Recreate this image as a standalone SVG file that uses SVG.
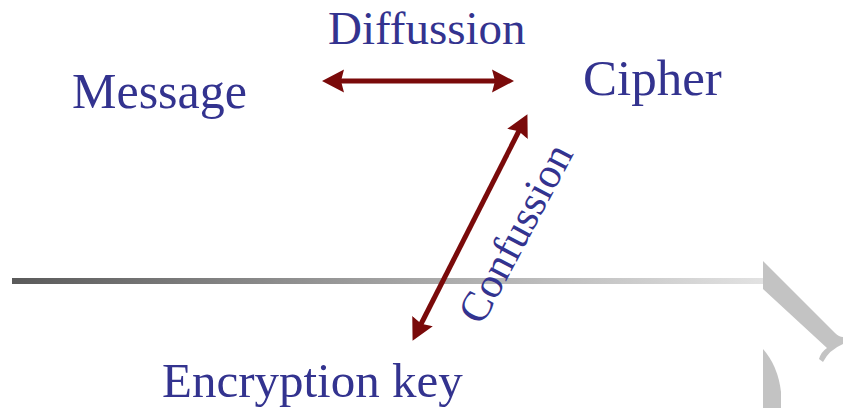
<svg xmlns="http://www.w3.org/2000/svg" width="843" height="408" viewBox="0 0 843 408">
  <style>
    .label { font-family: "Liberation Serif", "Times New Roman", serif; fill: #33338f; }
    .link { stroke: #7a0a0a; stroke-width: 5; fill: none; marker-start: url(#head); marker-end: url(#head); }
    .deco { fill: #c3c3c3; }
  </style>
  <defs>
    <marker id="head" markerUnits="userSpaceOnUse" markerWidth="23" markerHeight="25" refX="10" refY="11.5" orient="auto-start-reverse" viewBox="0 0 23 23">
      <path d="M0,0 L22,11.5 L0,23 L3,11.5 Z" fill="#7a0a0a"/>
    </marker>
    <linearGradient id="rule" x1="0" y1="0" x2="1" y2="0">
      <stop offset="0" stop-color="#5a5a5a"/>
      <stop offset="0.55" stop-color="#a8a8a8"/>
      <stop offset="1" stop-color="#e2e2e2"/>
    </linearGradient>
  </defs>
  <rect width="843" height="408" fill="#ffffff"/>

  <!-- horizontal rule and slide ornaments -->
  <rect x="12" y="278" width="751" height="6" fill="url(#rule)"/>
  <path class="deco" d="M763,261 L835,333 Q839,337 843,337 L843,344 Q829,350 823,362 L819,359 Q821,352 827,348 L763,289 Z"/>
  <path class="deco" d="M763,349 Q778,366 781,392 L781,408 L763,408 Z"/>

  <!-- connectors -->
  <g id="connectors">
    <line class="link" x1="334" y1="81" x2="502" y2="81"/>
    <line class="link" x1="418" y1="330" x2="522" y2="125"/>
  </g>

  <g id="message">
    <text class="label" x="72" y="108" font-size="50">Message</text>
  </g>
  <g id="cipher">
    <text class="label" x="583" y="95" font-size="51">Cipher</text>
  </g>
  <g id="encryption-key">
    <text class="label" x="162" y="397" font-size="49">Encryption key</text>
  </g>
  <g id="diffusion">
    <text class="label" x="328" y="44" font-size="47">Diffussion</text>
  </g>
  <g id="confusion">
    <text class="label" font-size="43" text-anchor="middle" transform="translate(528,240) rotate(-62)">Confussion</text>
  </g>
</svg>
